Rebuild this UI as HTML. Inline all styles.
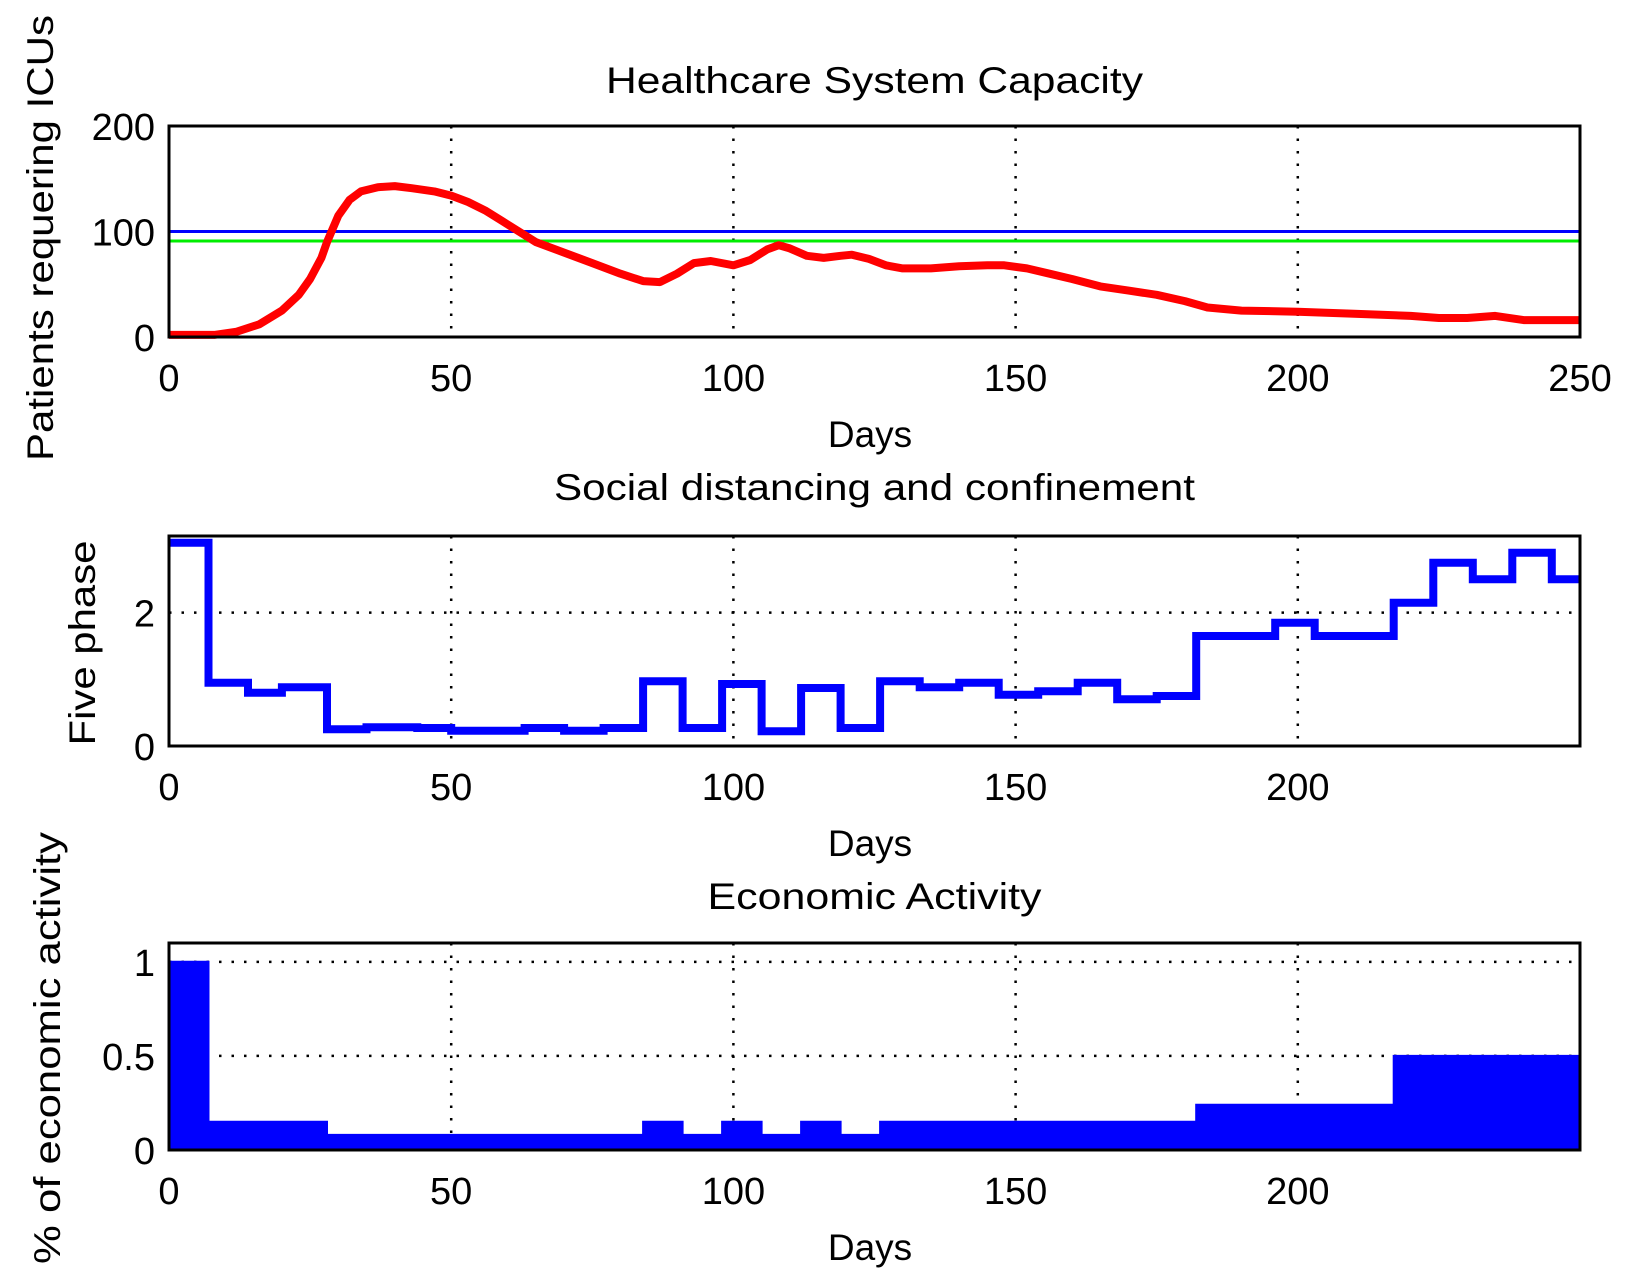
<!DOCTYPE html>
<html><head><meta charset="utf-8"><style>
html,body{margin:0;padding:0;background:#fff;}
svg{display:block;font-family:"Liberation Sans",sans-serif;}
</style></head><body>
<svg id="fig" width="1625" height="1282" viewBox="0 0 1625 1282" xmlns="http://www.w3.org/2000/svg"></svg>
<script>
// ---- data ----
const icuDays = [0,8,12,16,20,23,25,27,28,30,32,34,37,40,43,47,50,53,56,59,62,65,70,75,80,84,87,90,93,96,100,103,106,108,110,113,116,119,121,124,127,130,135,140,145,148,152,156,160,165,170,175,180,184,190,200,210,220,225,230,235,240,250];
const icuValues = [2,2,5,12,25,40,55,75,90,115,130,138,142,143,141,138,134,128,120,110,100,90,80,70,60,53,52,60,70,72,68,73,83,87,84,77,75,77,78,74,68,65,65,67,68,68,65,60,55,48,44,40,34,28,25,24,22,20,18,18,20,16,16];
const capacityBlue = 100;
const capacityGreen = 91;
const phaseStarts = [0,7,14,20,28,35,44,50,63,70,77,84,91,98,105,112,119,126,133,140,147,154,161,168,175,182,196,203,217,224,231,238,245,250];
const phaseValues = [3.05,0.95,0.8,0.88,0.25,0.28,0.27,0.23,0.27,0.23,0.27,0.97,0.27,0.93,0.22,0.87,0.27,0.97,0.88,0.95,0.77,0.82,0.95,0.7,0.75,1.65,1.85,1.65,2.15,2.75,2.5,2.9,2.5];
const econStarts = [0,7,28,84,91,98,105,112,119,126,182,217,250];
const econValues = [1.0,0.15,0.08,0.15,0.08,0.15,0.08,0.15,0.08,0.15,0.24,0.5];
const xTicks1 = [0,50,100,150,200,250];
const xTicks23 = [0,50,100,150,200];
const yTicks1 = [0,100,200];
const yTicks2 = [0,2];
const yTicks3 = [0,0.5,1];
const yTickLabels3 = ["0","0.5","1"];

const NS = "http://www.w3.org/2000/svg";
const svg = document.getElementById('fig');
function el(tag, attrs, parent){
  const e = document.createElementNS(NS, tag);
  for (const k in attrs) e.setAttribute(k, attrs[k]);
  (parent||svg).appendChild(e);
  return e;
}
const L = 169, R = 1580;
function makeAxes(name, top, bottom, ymax, title, titleY, titleLen, ylabel, ylabelX, ylabelY, ylabelLen, xticks, yticks, ylabels){
  const g = el('g', {});
  
  
  const xs = d => L + d/250*(R-L);
  const ys = v => bottom - v/ymax*(bottom-top);
  xticks.forEach(t => {
    if (t===0) return;
    const gl = el('line', {x1:xs(t), x2:xs(t), y1:top, y2:bottom, stroke:'#000', 'stroke-width':2.5, 'stroke-dasharray':'2.5 10'}, g);
    
    
  });
  yticks.forEach(t => {
    if (t===0) return;
    const gl = el('line', {x1:L, x2:R, y1:ys(t), y2:ys(t), stroke:'#000', 'stroke-width':2.5, 'stroke-dasharray':'2.5 10'}, g);
    
    
  });
  xticks.forEach(t => {
    const tx = el('text', {x:xs(t), y:bottom+54, 'font-size':38, 'text-anchor':'middle'}, g);
    tx.textContent = t;
    
    
  });
  yticks.forEach((t,i) => {
    const tx = el('text', {x:155, y:ys(t)+14, 'font-size':38, 'text-anchor':'end'}, g);
    tx.textContent = ylabels ? ylabels[i] : t;
    
    
  });
  const ti = el('text', {x:(L+R)/2, y:titleY, 'font-size':37, 'text-anchor':'middle', textLength:titleLen, lengthAdjust:'spacingAndGlyphs'}, g);
  ti.textContent = title;
  
  
  const xl = el('text', {x:870, y:bottom+110, 'font-size':37, 'text-anchor':'middle'}, g);
  xl.textContent = 'Days';
  
  
  const yl = el('text', {x:0, y:0, 'font-size':37, 'text-anchor':'middle', textLength:ylabelLen, lengthAdjust:'spacingAndGlyphs', transform:`translate(${ylabelX},${ylabelY}) rotate(-90)`}, g);
  yl.textContent = ylabel;
  
  
  return {g, xs, ys, top, bottom};
}
function frame(ax){
  const f = el('rect', {x:L, y:ax.top, width:R-L, height:ax.bottom-ax.top, fill:'none', stroke:'#000', 'stroke-width':3}, ax.g);
  
  
}

// ---- plot 1 ----
const a1 = makeAxes('icu-chart', 126, 337, 200, 'Healthcare System Capacity', 93, 537, 'Patients requering ICUs', 53, 238, 446, xTicks1, yTicks1);
const lb = el('line', {x1:L, x2:R, y1:a1.ys(capacityBlue), y2:a1.ys(capacityBlue), stroke:'#0000ff', 'stroke-width':3}, a1.g);


const lg = el('line', {x1:L, x2:R, y1:a1.ys(capacityGreen), y2:a1.ys(capacityGreen), stroke:'#00ee00', 'stroke-width':3}, a1.g);


let d1 = icuDays.map((d,i)=>(i?'L':'M')+a1.xs(d).toFixed(1)+','+a1.ys(icuValues[i]).toFixed(1)).join(' ');
const icu = el('path', {d:d1, fill:'none', stroke:'#ff0000', 'stroke-width':8, 'stroke-linejoin':'round'}, a1.g);


frame(a1);

// ---- plot 2 ----
const a2 = makeAxes('phase-chart', 536, 746, 3.15, 'Social distancing and confinement', 500, 641, 'Five phase', 95, 643, 205, xTicks23, yTicks2);
let d2 = '';
phaseValues.forEach((v,i)=>{
  d2 += (i? 'L':'M') + a2.xs(phaseStarts[i]).toFixed(1) + ',' + a2.ys(v).toFixed(1) + ' L' + a2.xs(phaseStarts[i+1]).toFixed(1) + ',' + a2.ys(v).toFixed(1) + ' ';
});
const ph = el('path', {d:d2, fill:'none', stroke:'#0000ff', 'stroke-width':8}, a2.g);


frame(a2);

// ---- plot 3 ----
const a3 = makeAxes('economic-chart', 943, 1150, 1.1, 'Economic Activity', 909, 334, '% of economic activity', 60, 1048, 432, xTicks23, yTicks3, yTickLabels3);
let d3 = 'M'+a3.xs(0)+','+a3.ys(0)+' ';
econValues.forEach((v,i)=>{
  d3 += 'L' + a3.xs(econStarts[i]).toFixed(1) + ',' + a3.ys(v).toFixed(1) + ' L' + a3.xs(econStarts[i+1]).toFixed(1) + ',' + a3.ys(v).toFixed(1) + ' ';
});
d3 += 'L'+a3.xs(250)+','+a3.ys(0)+' Z';
const ec = el('path', {d:d3, fill:'#0000ff', stroke:'#0000ff', 'stroke-width':2}, a3.g);


frame(a3);
</script>
</body></html>
